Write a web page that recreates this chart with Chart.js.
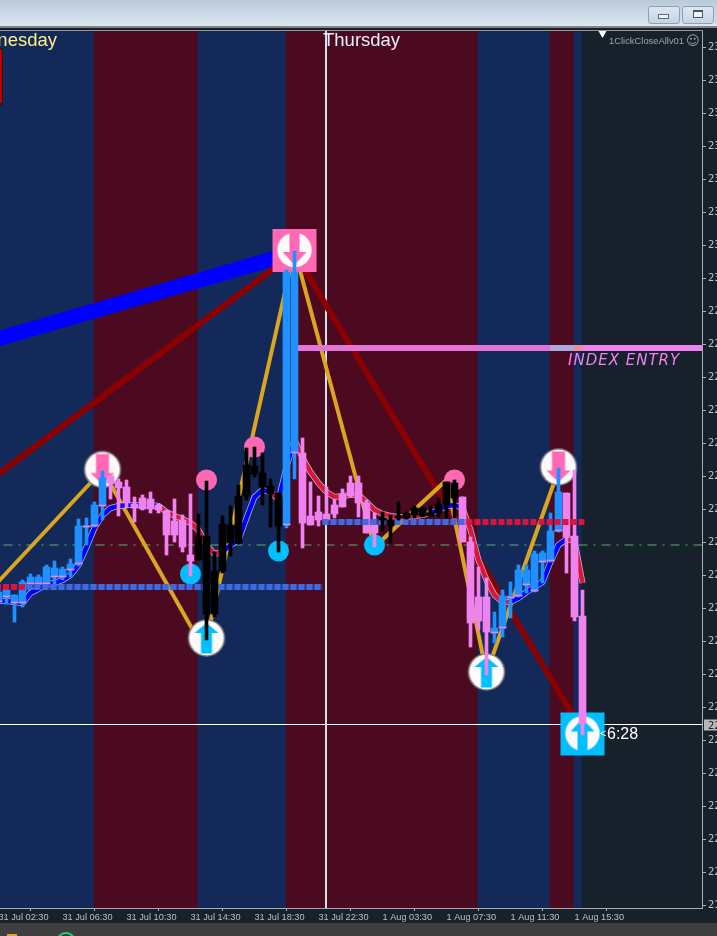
<!DOCTYPE html>
<html><head><meta charset="utf-8"><title>Chart</title>
<script src="https://cdn.jsdelivr.net/npm/chart.js@4"></script>
<style>
html,body{margin:0;padding:0;width:717px;height:936px;overflow:hidden;background:#17212c}
#c{position:absolute;left:-60px;top:0}
.o{position:absolute}
#title{left:0;top:0;width:717px;height:26px;background:linear-gradient(#b9cad9,#dde8f1)}
.btn{top:6px;width:30px;height:16px;border:1px solid #8e9fb8;border-radius:3px;background:linear-gradient(#dfe8f1,#c5d3e2)}
</style></head><body>
<canvas id="c" width="777" height="936"></canvas>
<div class="o" id="title"></div>
<div class="o btn" style="left:648px"><div class="o" style="left:9px;top:7px;width:9px;height:3px;background:#eef3f8;border:1px solid #5a6a80"></div></div>
<div class="o btn" style="left:682px"><div class="o" style="left:10px;top:3px;width:8px;height:5px;background:#eef3f8;border:1px solid #45556b;border-top-width:2px"></div></div>
<div class="o" style="left:715px;top:6px;width:2px;height:18px;background:#c8d4e2"></div>
<div class="o" style="left:0;top:26px;width:717px;height:2px;background:#808487"></div>
<div class="o" style="left:0;top:28px;width:717px;height:2px;background:#1a1f24"></div>
<div class="o" style="left:0;top:30px;width:703px;height:1px;background:#8f959a"></div>
<div class="o" style="left:0;top:48px;width:3px;height:57px;background:#1c1c1c"></div>
<div class="o" style="left:0;top:50px;width:2px;height:53px;background:#c00000"></div>
<div class="o" style="left:0;top:923px;width:717px;height:13px;background:#3e3e3e"></div>
<div class="o" style="left:7px;top:934px;width:10px;height:2px;background:#e0a92e"></div>
<div class="o" style="left:56px;top:932px;width:16px;height:16px;border:2px solid #2ecc71;border-radius:50%"></div>
<script>
// ---- axes ----
const xTickValues=[-1,7,15,23,31,39,47,55,63,71];
const xTickLabels=['31 Jul 02:30','31 Jul 06:30','31 Jul 10:30','31 Jul 14:30','31 Jul 18:30','31 Jul 22:30','1 Aug 03:30','1 Aug 07:30','1 Aug 11:30','1 Aug 15:30'];
const yTickValues=[94.5,127.5,160.5,193.5,226.5,259.5,292.5,325.5,358.5,391.5,424.5,457.5,490.5,523.5,556.5,589.5,622.5,655.5,688.5,721.5,754.5,787.5,820.5,853.5,886.5,919.5,952.5];
const yTickLabels=['21','22','22','22','22','22','22','22','22','22','22','22','22','22','22','22','22','22','22','23','23','23','23','23','23','23','23'];
// ---- candles (first one is index -1) ----
const firstCandle=-1;
const candleKind='bbbbbbbbbbbbbbpppppppppppkkkkkkkkkkkbbppppppppppkkkkkkkkkkppppbbbbbbbbbppp'.split('');
const wickHigh=[410,411,405,420,426,425,435,439,433,441,481,482,498,529,524,521,520,503,505,508,496,490,501,485,506,486,519,448,484,494,515,552,553,547,521,507,730,749,562,518,504,513,501,511,524,524,500,487,488,485,498,488,494,493,494,502,518,520,503,463,433,422,388,410,418,435,435,449,449,487,532,507,530,410];
const bodyHigh=[408,410,405,418,423,423,433,432,431,436,474,474,495,522,524,518,513,496,502,501,495,489,479,480,445,464,464,429,476,475,504,535,534,527,514,507,728,728,547,484,488,486,495,506,517,517,497,475,482,480,484,487,492,492,487,496,518,517,503,458,403,403,372,404,404,430,430,446,447,469,508,507,464,384];
const bodyLow=[398,403,397,397,416,416,416,423,423,430,436,473,474,494,517,512,497,492,491,491,490,465,465,453,439,440,386,386,429,457,457,504,526,513,506,474,475,547,477,475,480,480,486,493,504,497,467,467,480,475,482,482,485,484,484,487,495,502,458,377,379,368,367,372,402,404,415,409,438,439,469,463,383,276];
const wickLow=[396,396,378,393,415,415,415,415,420,423,434,455,473,480,501,484,492,478,490,487,487,445,458,448,424,440,360,383,427,444,456,500,523,495,473,448,472,521,452,475,474,480,482,493,503,483,467,453,469,457,480,481,482,483,483,483,482,482,458,353,370,325,357,363,382,403,407,408,417,438,468,427,379,265];
// ---- smoothed moving average (first one is index -2) ----
const maFirst=-2;
const maValues=[400,399,399,398,397,407,411,416,417,420,425,435,453,472,485,492,494,495,495,495,495,494,488,484,481,477,470,455,446,448,455,460,482,503,510,508,500,533,560,542,528,517,508,503,504,505,505,498,490,486,484,483,483,484,485,487,490,494,495,492,470,440,420,405,398,398,402,408,413,418,438,455,461,459,417];
const maTrend='uuuuuuuuuuuuuuuuuuuuuddddddddYYYYYYdYYddddddddddddddddduuuuddddddYYYYYYYddd'.replace(/Y/g,'u').split('');
// ---- background session bands ----
const bandEdges=[-9,11,24,35,59,68,71,72,87];
const bandColors=['#12295a','#4c0a21','#12295a','#4c0a21','#12295a','#4c0a21','#12295a','#17212c'];
// ---- zigzags ----
const goldX=[-2,12,24,25,36,46,55,60,69];
const goldY=[410,530,360,360,750,453,520,327,530];
const maroonX=[-2,36,72];
const maroonY=[520,747,269];
const trendBlueX=[-2,36];
const trendBlueY=[659,747.5];
// ---- level lines ----
const blueLevelLowX=[2.5,39.5];  const blueLevelLowY=[413,413];
const redLevelLowX=[-1.4375,2.5]; const redLevelLowY=[413,413];
const blueLevelHighX=[39.5,57.5]; const blueLevelHighY=[478,478];
const redLevelHighX=[57.5,72.5];  const redLevelHighY=[478,478];
const indexEntryX=[36.44,67.94,70.94,71.94,87];
const indexEntryY=[652,652,652,652,652];
const indexEntryColors=['#e274d8','#aaa8dc','#f08c8c','#ee82ee'];
const midLevel=455, priceNow=275.5, daySeparator=39.9375;
// ---- signal markers ----
const pinkDotX=[25,31,56];   const pinkDotY=[520,553,520];
const cyanDotX=[23,34,46];   const cyanDotY=[426,449,455];
const sellBubbleX=[12,69];   const sellBubbleY=[530.5,533];
const buyBubbleX=[25,60];    const buyBubbleY=[362,328];
const sellBoxX=[36];         const sellBoxY=[750];
const buyBoxX=[72];          const buyBoxY=[266.5];
// ---- texts ----
const dayLabels=[['Wednesday',57,'right','#ffef8a'],['Thursday',323,'left','#e8f0ff']];

const PINK='#ff69b4',CYAN='#00bfff';
function glyph(size,box,color,down){
  const c=document.createElement('canvas');c.width=c.height=size;
  const g=c.getContext('2d'),m=size/2;
  if(box){g.fillStyle=color;g.fillRect(m-22,m-21,44,43);}
  else{g.fillStyle='#808080';g.beginPath();g.arc(m,m,18.7,0,7);g.fill();}
  g.fillStyle='#fffafa';g.beginPath();g.arc(m,m,17.2,0,7);g.fill();
  g.fillStyle=color;
  const s=down?1:-1, sh=box?5:(down?6.5:5.5), base=box?2:(down?3.5:5), top=box?20:15.5;
  g.beginPath();
  g.moveTo(m-sh,m-top*s);g.lineTo(m+sh,m-top*s);g.lineTo(m+sh,m+base*s);
  g.lineTo(m+12,m+base*s);g.lineTo(m,m+15*s);g.lineTo(m-12,m+base*s);g.lineTo(m-sh,m+base*s);
  g.closePath();g.fill();
  return c;
}
const pts=(xs,ys)=>xs.map((x,i)=>({x,y:ys[i]}));
const pick=(kind,hi,lo)=>candleKind.map((k,i)=>k===kind?{x:i+firstCandle,y:[lo[i],hi[i]]}:null).filter(Boolean);
const bar=(data,color,w)=>({type:'bar',data,backgroundColor:color,barThickness:w,grouped:false,borderWidth:0,borderSkipped:false});
const line=(xs,ys,color,w,extra)=>Object.assign({type:'line',data:pts(xs,ys),borderColor:color,borderWidth:w,pointRadius:0,tension:0,fill:false},extra||{});
const mark=(xs,ys,style,color,r,extra)=>Object.assign({type:'line',data:pts(xs,ys),showLine:false,pointStyle:style,pointRadius:r,pointBackgroundColor:color,pointBorderWidth:0},extra||{});

const layers=[];
for(let b=0;b<bandColors.length;b++){
  const n=bandEdges[b+1]-bandEdges[b];
  layers.push(bar([{x:(bandEdges[b]+bandEdges[b+1])/2-0.0625,y:[92,970]}],bandColors[b],n*8));
}
layers.push(line([-9,87],[midLevel,midLevel],'#5fae6a',1,{borderDash:[9,6,2,6]}));
layers.push(line([-9,87],[priceNow,priceNow],'#ffffff',1));
layers.push(line([daySeparator,daySeparator],[92,970],'#d2e0ea',2));
layers.push(line(trendBlueX,trendBlueY,'#0000ff',15));
layers.push(line(maroonX,maroonY,'#8b0000',6));
layers.push(line(goldX,goldY,'#daa520',4));
layers.push(line(maValues.map((_,i)=>i+maFirst),maValues,'#b8bcc8',6));
layers.push(line(maValues.map((_,i)=>i+maFirst),maValues,'#0000ff',4.5,{segment:{borderColor:c=>maTrend[c.p0DataIndex]==='u'?'#0000ff':'#dc143c'}}));
layers.push(mark(pinkDotX,pinkDotY,'circle',PINK,10.5));
layers.push(mark(cyanDotX,cyanDotY,'circle',CYAN,10.5));
layers.push(mark(sellBubbleX,sellBubbleY,glyph(40,false,PINK,true),PINK,20));
layers.push(mark(buyBubbleX,buyBubbleY,glyph(40,false,CYAN,false),CYAN,20));
layers.push(mark(sellBoxX,sellBoxY,glyph(48,true,PINK,true),PINK,24));
layers.push(mark(buyBoxX,buyBoxY,glyph(48,true,CYAN,false),CYAN,24));
layers.push(bar(pick('b',wickHigh,wickLow),'#1e90ff',3));
layers.push(bar(pick('p',wickHigh,wickLow),'#ee82ee',3));
layers.push(bar(pick('b',bodyHigh,bodyLow),'#1e90ff',7));
layers.push(bar(pick('p',bodyHigh,bodyLow),'#ee82ee',7));
layers.push(bar(candleKind.map((k,i)=>k==='b'?{x:i+firstCandle,y:[bodyLow[i],bodyLow[i]+1]}:null).filter(Boolean),'#ee82ee',7));
layers.push(line(blueLevelLowX,blueLevelLowY,'rgba(65,105,225,0.35)',6));
layers.push(line(blueLevelHighX,blueLevelHighY,'rgba(65,105,225,0.35)',6));
layers.push(line(redLevelLowX,redLevelLowY,'#dc143c',6,{borderDash:[6,2]}));
layers.push(line(blueLevelLowX,blueLevelLowY,'#4169e1',6,{borderDash:[6,2]}));
layers.push(line(blueLevelHighX,blueLevelHighY,'#4169e1',6,{borderDash:[6,2]}));
layers.push(line(redLevelHighX,redLevelHighY,'#dc143c',6,{borderDash:[6,2]}));
layers.push(bar(pick('k',wickHigh,wickLow),'#000000',3));
layers.push(bar(pick('k',bodyHigh,bodyLow),'#000000',7));
layers.push(line(indexEntryX,indexEntryY,'#ee82ee',6,{segment:{borderColor:c=>indexEntryColors[c.p0DataIndex]}}));
layers.push(mark([74.5],[967],'triangle','#ffffff',5,{rotation:180}));
layers.forEach((d,i)=>{d.order=layers.length-i;});

const texts={id:'texts',afterDatasetsDraw(ch){
  const g=ch.ctx,Y=ch.scales.y,off=60;
  g.save();g.textBaseline='alphabetic';
  g.font='18.5px "Liberation Sans"';
  dayLabels.forEach(([t,x,a,col])=>{g.fillStyle=col;g.textAlign=a;g.fillText(t,x+off,46);});
  g.textAlign='left';
  g.font='9.4px "Liberation Sans"';g.fillStyle='#9aa5ad';g.fillText('1ClickCloseAllv01',609+off,44);
  g.font='13px "DejaVu Sans"';g.fillText('☺',686+off,45);
  g.font='italic 15px "DejaVu Sans"';g.fillStyle='#ee82ee';
  g.letterSpacing='1px';g.fillText('INDEX ENTRY',568+off,365);g.letterSpacing='0px';
  g.font='11px "Liberation Sans"';g.fillStyle='#e8eef4';g.fillText('<',600+off,737);
  g.font='16px "Liberation Sans"';g.fillStyle='#ffffff';g.fillText('6:28',607+off,739);
  const py=Y.getPixelForValue(priceNow);
  g.fillStyle='#b8b8b8';g.fillRect(704+off,py-5,13,11);
  g.font='10px "DejaVu Sans"';g.fillStyle='#222222';g.fillText('22',708+off,py+4);
  g.restore();
}};

new Chart(document.getElementById('c'),{
  type:'bar',
  data:{datasets:layers},
  plugins:[texts],
  options:{
    responsive:false,animation:false,events:[],
    layout:{autoPadding:false,padding:{top:30,left:0,right:0,bottom:0}},
    plugins:{legend:{display:false},tooltip:{enabled:false},title:{display:false}},
    scales:{
      x:{type:'linear',position:'bottom',min:-8.3125,max:86.9375,offset:false,
        afterBuildTicks:s=>{s.ticks=xTickValues.map(v=>({value:v}));},
        afterFit:s=>{s.height=28;s.paddingLeft=0;s.paddingRight=0;},
        grid:{drawOnChartArea:false,drawTicks:true,tickLength:3,color:'#a9aeb3'},
        border:{color:'#a9aeb3',width:1},
        ticks:{autoSkip:false,maxRotation:0,minRotation:0,align:'start',padding:1,color:'#b8c0c8',font:{family:'"Liberation Sans"',size:9.2},
          callback:(v,i)=>xTickLabels[i]}},
      y:{type:'linear',position:'right',min:92,max:970,
        afterBuildTicks:s=>{s.ticks=yTickValues.map(v=>({value:v}));},
        afterFit:s=>{s.width=15;s.paddingTop=0;s.paddingBottom=0;},
        grid:{drawOnChartArea:false,drawTicks:true,tickLength:4,color:'#a9aeb3'},
        border:{color:'#a9aeb3',width:1},
        ticks:{autoSkip:false,padding:2,color:'#b8c0c8',font:{family:'"DejaVu Sans"',size:10},
          callback:(v,i)=>yTickLabels[i]}}
    }
  }
});
</script>
</body></html>
